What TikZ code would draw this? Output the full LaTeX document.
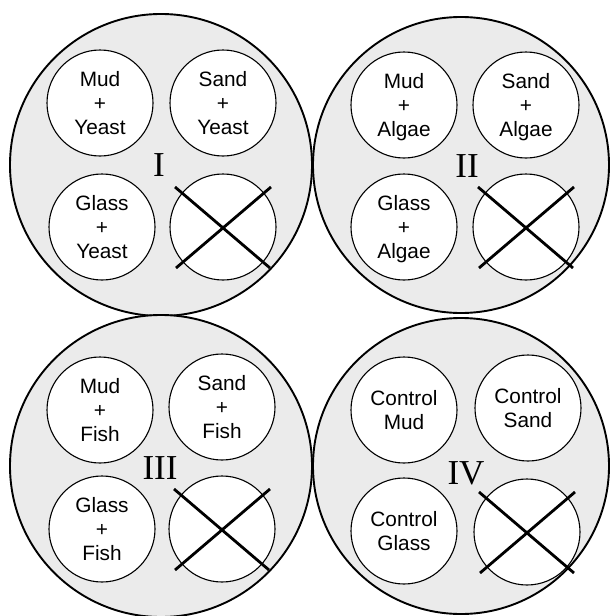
\documentclass[tikz,border=0pt]{standalone}
\usepackage{fontspec}
\setmainfont{Liberation Serif}
\setsansfont{Liberation Sans}
\definecolor{dishgray}{RGB}{235,235,235}
\tikzset{
  bigdish/.style={circle, draw=black, line width=1.9pt, fill=dishgray, inner sep=0pt},
  well/.style={circle, draw=black, line width=1.1pt, fill=white, inner sep=0pt,
    minimum size=106pt, align=center, text depth=0pt,
    font=\sffamily\fontsize{20.8}{24}\selectfont},
  crossline/.style={draw=black, line width=2.8pt},
  numeral/.style={anchor=base, inner sep=0pt, font=\rmfamily\fontsize{35}{35}\selectfont}
}
\begin{document}
\begin{tikzpicture}[x=1pt, y=-1pt]
\useasboundingbox (0,0) rectangle (610,616);
% big dishes
\node[bigdish, minimum size=302pt] (D1) at (161,165) {};
\node[bigdish, minimum size=296pt] (D2) at (461,165) {};
\node[bigdish, minimum size=302pt] (D3) at (161,466) {};
\node[bigdish, minimum size=296pt] (D4) at (461,466) {};
% dish I
\node[well] (A1) at (100,103) {Mud\\+\\Yeast};
\node[well] (A2) at (223,103) {Sand\\+\\Yeast};
\node[well] (A3) at (102,227) {Glass\\+\\Yeast};
\node[well] (A4) at (223,227) {};
% dish II
\node[well] (B1) at (404,105) {Mud\\+\\Algae};
\node[well] (B2) at (526,105) {Sand\\+\\Algae};
\node[well] (B3) at (404,227) {Glass\\+\\Algae};
\node[well] (B4) at (526,227) {};
% dish III
\node[well] (C1) at (100,410) {Mud\\+\\Fish};
\node[well] (C2) at (222,407) {Sand\\+\\Fish};
\node[well] (C3) at (102,529) {Glass\\+\\Fish};
\node[well] (C4) at (222,529) {};
% dish IV
\node[well] (E1) at (404,410) {Control\\Mud};
\node[well] (E2) at (528,408) {Control\\Sand};
\node[well] (E3) at (404,531) {Control\\Glass};
\node[well] (E4) at (527,532) {};
% crosses
\foreach \w in {A4,B4,C4,E4}{
  \draw[crossline] ([shift={(-48,-40)}]\w.center) -- ([shift={(47,41)}]\w.center);
  \draw[crossline] ([shift={(48,-40)}]\w.center) -- ([shift={(-47,41)}]\w.center);
}
% numerals
\node[numeral] (N1) at (159,176) {I};
\node[numeral] (N2) at (467,177) {II};
\node[numeral] (N3) at (160,479) {III};
\node[numeral] (N4) at (466,484) {IV};
\end{tikzpicture}
\end{document}
